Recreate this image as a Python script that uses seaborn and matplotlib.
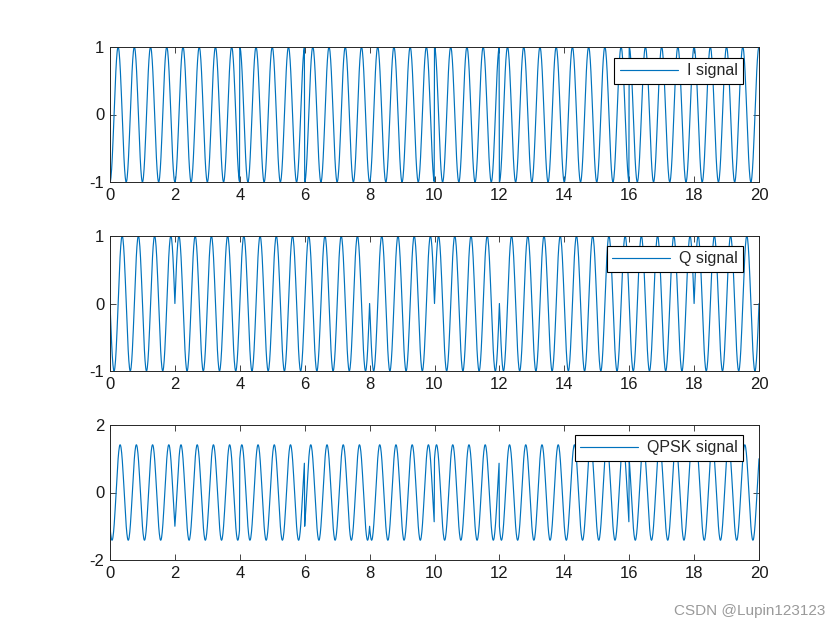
import numpy as np
import pandas as pd
import matplotlib
matplotlib.use("Agg")
import matplotlib.pyplot as plt
import seaborn as sns

# ---- data ----
bit_duration = 2.0          # seconds per symbol
carrier_freq = 2.0          # Hz
i_bits = [-1, -1, 1, -1, -1, 1, -1, -1, 1, 1]
q_bits = [-1, 1, 1, 1, -1, 1, -1, -1, -1, 1]
x_ticks = [0, 2, 4, 6, 8, 10, 12, 14, 16, 18, 20]
labels = ["I signal", "Q signal", "QPSK signal"]

t = np.linspace(0, 20, 2001)
idx = np.clip((t // bit_duration).astype(int), 0, len(i_bits) - 1)
i_sig = np.array(i_bits)[idx] * np.cos(2 * np.pi * carrier_freq * t)
q_sig = np.array(q_bits)[idx] * np.sin(2 * np.pi * carrier_freq * t)
qpsk = i_sig + q_sig

df = pd.DataFrame({"t": t, "I": i_sig, "Q": q_sig, "QPSK": qpsk})

sns.set_style("white")
plt.rcParams["font.family"] = ["Liberation Sans", "DejaVu Sans"]
plt.rcParams["axes.unicode_minus"] = False

fig = plt.figure(figsize=(8.4, 6.3), dpi=100)
blue = "#0072BD"
txt = "#262626"

positions = [
    (110 / 840, 1 - 182 / 630, 649 / 840, 135 / 630),
    (110 / 840, 1 - 371 / 630, 649 / 840, 135 / 630),
    (110 / 840, 1 - 560 / 630, 649 / 840, 135 / 630),
]
cols = ["I", "Q", "QPSK"]
ylims = [(-1, 1), (-1, 1), (-2, 2)]
yticks = [[-1, 0, 1], [-1, 0, 1], [-2, 0, 2]]
legend_anchor = [(0.9753, 0.918), (0.9753, 0.925), (0.9753, 0.925)]

for k in range(3):
    ax = fig.add_axes(positions[k])
    sns.lineplot(data=df, x="t", y=cols[k], ax=ax, color=blue, linewidth=0.85,
                 estimator=None, sort=False, label=labels[k])
    ax.set_xlim(0, 20)
    ax.set_ylim(*ylims[k])
    ax.set_xticks(x_ticks)
    ax.set_yticks(yticks[k])
    ax.set_xlabel("")
    ax.set_ylabel("")
    for s in ax.spines.values():
        s.set_visible(True)
        s.set_color(txt)
        s.set_linewidth(0.7)
    ax.tick_params(direction="in", length=4, width=0.6, colors=txt,
                   labelsize=12, top=True, right=True, bottom=True, left=True,
                   labelcolor="#1a1a1a", pad=4)
    leg = ax.legend(loc="upper right", bbox_to_anchor=legend_anchor[k],
                    borderaxespad=0, fontsize=11.5, fancybox=False, framealpha=1,
                    edgecolor="black", handlelength=3.65, handletextpad=0.55,
                    borderpad=0.33)
    leg.get_frame().set_linewidth(0.8)
    for line in leg.get_lines():
        line.set_linewidth(0.85)

fig.text(0.982, 0.03, "CSDN @Lupin123123", ha="right", va="center",
         fontsize=11, color="#9a9a9a")

fig.savefig("out.png", dpi=100, facecolor="white")
